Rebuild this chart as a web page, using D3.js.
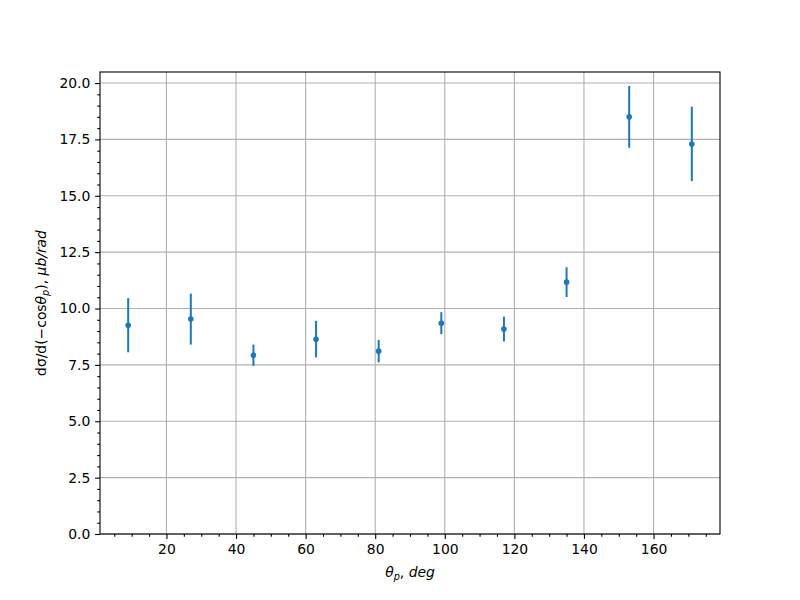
<!DOCTYPE html>
<html><head><meta charset="utf-8">
<script src="https://cdn.jsdelivr.net/npm/d3@7"></script>
<style>body{margin:0;background:#fff}text{font-family:"DejaVu Sans",sans-serif}</style>
</head><body>
<script>
const angles = [9, 27, 45, 63, 81, 99, 117, 135, 153, 171];
const values = [9.26, 9.53, 7.93, 8.64, 8.11, 9.35, 9.09, 11.17, 18.50, 17.30];
const errors = [1.20, 1.13, 0.47, 0.81, 0.50, 0.49, 0.55, 0.66, 1.37, 1.65];
const xTicks = [20, 40, 60, 80, 100, 120, 140, 160];
const yTicks = [0, 2.5, 5, 7.5, 10, 12.5, 15, 17.5, 20];

const W = 800, H = 600;
const L = 100, R = 720, T = 72, B = 534;
const FS = 13.9;
const svg = d3.select("body").append("svg").attr("width", W).attr("height", H);
svg.append("rect").attr("width", W).attr("height", H).attr("fill", "#fff");

const x = d3.scaleLinear().domain([0.9, 179.1]).range([L, R]);
const y = d3.scaleLinear().domain([0, 20.49]).range([B, T]);

// grid
const g = svg.append("g");
g.selectAll(".gx").data(xTicks).join("line")
  .attr("x1", d => x(d)).attr("x2", d => x(d)).attr("y1", T).attr("y2", B)
  .attr("stroke", "#b0b0b0").attr("stroke-width", 1.1);
g.selectAll(".gy").data(yTicks).join("line")
  .attr("x1", L).attr("x2", R).attr("y1", d => y(d)).attr("y2", d => y(d))
  .attr("stroke", "#b0b0b0").attr("stroke-width", 1.1);

// axes
const xMinor = d3.range(5, 179, 5).filter(v => v % 20 !== 0);
const yMinor = d3.range(0, 20.5, 0.5).filter(v => Math.abs(v / 2.5 - Math.round(v / 2.5)) > 1e-6);

const xAxis = svg.append("g").attr("transform", `translate(0,${B})`)
  .call(d3.axisBottom(x).tickValues(xTicks).tickSize(4.9).tickPadding(4.8).tickFormat(d3.format("d")));
const xAxisMinor = svg.append("g").attr("transform", `translate(0,${B})`)
  .call(d3.axisBottom(x).tickValues(xMinor).tickSize(2.8).tickFormat(""));
const yAxis = svg.append("g").attr("transform", `translate(${L},0)`)
  .call(d3.axisLeft(y).tickValues(yTicks).tickSize(4.9).tickPadding(4.8).tickFormat(d3.format(".1f")));
const yAxisMinor = svg.append("g").attr("transform", `translate(${L},0)`)
  .call(d3.axisLeft(y).tickValues(yMinor).tickSize(2.8).tickFormat(""));
[xAxis, xAxisMinor, yAxis, yAxisMinor].forEach(a => {
  a.select(".domain").remove();
  a.selectAll("line").attr("stroke", "#000").attr("stroke-width", 1.1);
  a.selectAll("text").attr("font-size", FS).attr("fill", "#000")
    .style("font-family", '"DejaVu Sans", sans-serif');
});

// frame
svg.append("rect").attr("x", L).attr("y", T).attr("width", R - L).attr("height", B - T)
  .attr("fill", "none").attr("stroke", "#000").attr("stroke-width", 1.1);

// error bars and points
const color = "#1f77b4";
const pts = svg.append("g");
pts.selectAll("line").data(angles).join("line")
  .attr("x1", (d) => x(d)).attr("x2", (d) => x(d))
  .attr("y1", (d, i) => y(values[i] - errors[i]))
  .attr("y2", (d, i) => y(values[i] + errors[i]))
  .attr("stroke", color).attr("stroke-width", 2);
pts.selectAll("circle").data(angles).join("circle")
  .attr("cx", d => x(d)).attr("cy", (d, i) => y(values[i])).attr("r", 2.8)
  .attr("fill", color);

// x label
const xl = svg.append("text").attr("x", (L + R) / 2).attr("y", 577)
  .attr("text-anchor", "middle").attr("font-size", FS);
xl.append("tspan").attr("font-style", "italic").text("θ");
xl.append("tspan").attr("font-style", "italic").attr("font-size", 9.7).attr("dy", 2.6).text("p");
xl.append("tspan").attr("dy", -2.6).text(", ");
xl.append("tspan").attr("font-style", "italic").text("deg");

// y label
const yl = svg.append("text").attr("transform", `translate(46,${(T + B) / 2}) rotate(-90)`)
  .attr("text-anchor", "middle").attr("font-size", FS);
yl.append("tspan").text("dσ/d(−cos");
yl.append("tspan").attr("font-style", "italic").text("θ");
yl.append("tspan").attr("font-style", "italic").attr("font-size", 9.7).attr("dy", 2.6).text("p");
yl.append("tspan").attr("dy", -2.6).text("), ");
yl.append("tspan").attr("font-style", "italic").text("μb/rad");
</script>
</body></html>
